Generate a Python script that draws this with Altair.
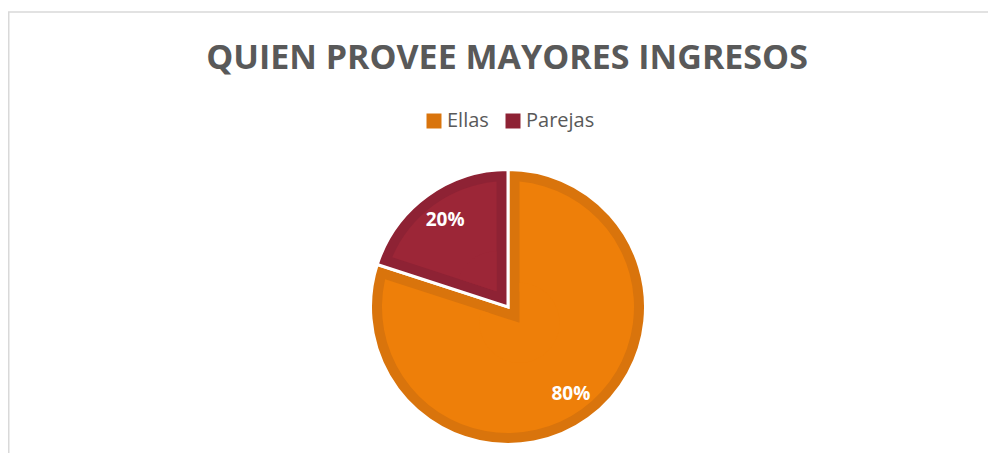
import altair as alt
import pandas as pd

categories = ["Ellas", "Parejas"]
values = [80, 20]
order_idx = [0, 1]
light_colors = ["#EE7F09", "#9C2637"]
dark_colors = ["#D9740C", "#8E2234"]
title_text = ["QUIEN PROVEE MAYORES INGRESOS"]

W, H = 980, 445
CX, CY = 500, 299
INSET = 11.5  # distance of light area edge from slice boundary

df = pd.DataFrame({"cat": categories, "value": values, "light": light_colors, "idx": order_idx})

base = alt.Chart(df).encode(
    theta=alt.Theta("value:Q", stack=True),
    order=alt.Order("idx:Q"),
    x=alt.value(CX),
    y=alt.value(CY),
)

dark = base.mark_arc(outerRadius=137.5, stroke="white", strokeWidth=3).encode(
    color=alt.Color(
        "cat:N",
        scale=alt.Scale(domain=categories, range=dark_colors),
        legend=alt.Legend(
            orient="none", legendX=416, legendY=103, direction="horizontal",
            title=None, symbolType="square", symbolSize=225, symbolStrokeWidth=0,
            labelFontSize=20, labelFont="Open Sans", labelColor="#595959",
            columnPadding=14, labelOffset=3, padding=0,
        ),
    )
)

light = base.mark_arc(outerRadius=126, innerRadius=19.5, padAngle=0.1806).encode(
    fill=alt.Fill("light:N", scale=None)
)

# patch near the slice vertices so the inner light area has a sharp corner
patch = alt.Chart(df).transform_joinaggregate(
    total="sum(value)"
).transform_window(
    cum="sum(value)", sort=[alt.SortField("idx")]
).transform_calculate(
    t0="(datum.cum - datum.value) / datum.total * 2 * PI",
    t1="datum.cum / datum.total * 2 * PI",
).transform_calculate(
    mid="(datum.t0 + datum.t1) / 2",
    dist=f"{INSET} / abs(sin((datum.t1 - datum.t0) / 2))",
).transform_calculate(
    px=f"{CX} + datum.dist * sin(datum.mid)",
    py=f"{CY} - datum.dist * cos(datum.mid)",
).mark_arc(outerRadius=40).encode(
    theta=alt.Theta("t0:Q", scale=None),
    theta2="t1:Q",
    x=alt.X("px:Q", scale=None),
    y=alt.Y("py:Q", scale=None),
    fill=alt.Fill("light:N", scale=None),
)

labels = base.transform_calculate(label="datum.value + '%'").mark_text(
    radius=107, font="Open Sans", fontSize=19, fontWeight="bold", color="white"
).encode(text="label:N")

title = alt.Chart(pd.DataFrame({"t": title_text})).mark_text(
    font="Open Sans", fontSize=34, fontWeight="bold", color="#595959",
    baseline="alphabetic", align="center"
).encode(x=alt.value(499), y=alt.value(61), text="t:N")

frame = alt.Chart(pd.DataFrame({"a": [0]}))
top_rule = frame.mark_rule(color="#D9D9D9", strokeWidth=1.5).encode(
    x=alt.value(0), x2=alt.value(W), y=alt.value(4)
)
left_rule = frame.mark_rule(color="#D9D9D9", strokeWidth=1.5).encode(
    x=alt.value(0.75), y=alt.value(4), y2=alt.value(H)
)

chart = alt.layer(top_rule, left_rule, dark, light, patch, labels, title).properties(
    width=W, height=H, padding=0, autosize=alt.AutoSizeParams(type="none")
).configure_view(stroke=None)

chart.save("out.html", embed_options={"renderer": "svg", "actions": False})
